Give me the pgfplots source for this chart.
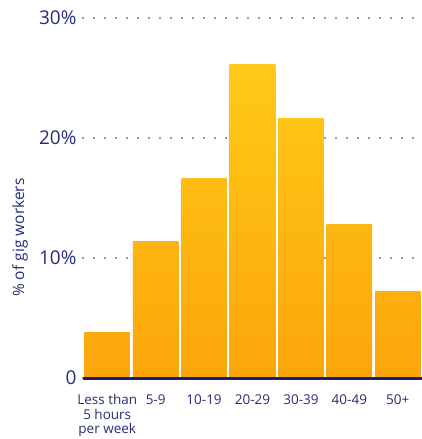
\documentclass[border=0pt]{standalone}
\usepackage{pgfplots}
\pgfplotsset{compat=1.18}
\usepackage{fontspec}
\setmainfont{Open Sans}
\definecolor{navy}{RGB}{38,45,120}
\definecolor{navyline}{RGB}{28,32,108}
\definecolor{barbot}{RGB}{252,165,10}
\definecolor{bartop}{RGB}{255,202,24}
\begin{document}
\begin{tikzpicture}
\useasboundingbox (-83pt,-61pt) rectangle (339pt,378pt);
\begin{axis}[
  at={(0,0)}, anchor=south west,
  scale only axis, width=339pt, height=360pt,
  xmin=-0.5, xmax=6.5, ymin=0, ymax=30,
  axis line style={draw=none},
  major tick length=0pt,
  xtick={0,1,2,3,4,5,6},
  xticklabels={{Less than\\5 hours\\per week},5-9,10-19,20-29,30-39,40-49,50+},
  xticklabel style={align=center, font=\fontsize{13.5}{14.5}\selectfont, text=navy, yshift=-13pt},
  ytick={0,10,20,30},
  yticklabels={0,10\%,20\%,30\%},
  yticklabel style={font=\fontsize{19}{22}\selectfont, text=navy, xshift=-3pt},
  ymajorgrids,
  major grid style={navy, line width=1.7pt, line cap=round, dash pattern=on 0pt off 11pt},
  ylabel={\% of gig workers},
  ylabel style={at={(axis description cs:-0.186,0.39)}, anchor=center, font=\fontsize{15.5}{17}\selectfont, text=navy},
  clip=false,
  ybar, bar width=0.94, bar shift=0pt,
]
\addplot[draw=none, top color=bartop!15!barbot, bottom color=barbot] coordinates {(0,3.8)};
\addplot[draw=none, top color=bartop!44!barbot, bottom color=barbot] coordinates {(1,11.4)};
\addplot[draw=none, top color=bartop!64!barbot, bottom color=barbot] coordinates {(2,16.6)};
\addplot[draw=none, top color=bartop, bottom color=barbot] coordinates {(3,26.1)};
\addplot[draw=none, top color=bartop!83!barbot, bottom color=barbot] coordinates {(4,21.6)};
\addplot[draw=none, top color=bartop!49!barbot, bottom color=barbot] coordinates {(5,12.75)};
\addplot[draw=none, top color=bartop!28!barbot, bottom color=barbot] coordinates {(6,7.25)};
\draw[navyline, line width=3pt] (axis cs:-0.5,0) -- (axis cs:6.5,0);
\end{axis}
\end{tikzpicture}
\end{document}
